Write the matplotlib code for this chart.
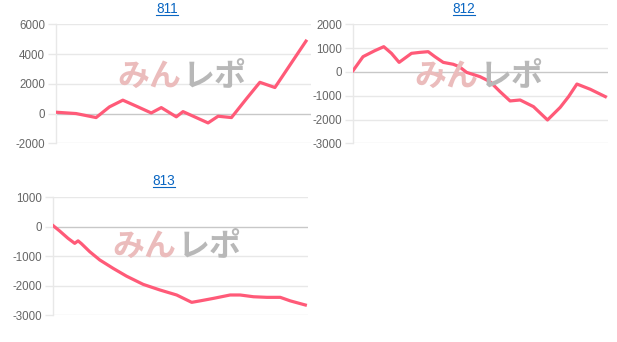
import matplotlib
matplotlib.use('Agg')
import matplotlib.pyplot as plt
from matplotlib.lines import Line2D

W, H = 617, 342

# game counts (x) and balance (y)
x_811 = [0, 600, 1200, 1600, 2000, 2450, 2850, 3150, 3600, 3800, 4550, 4850, 5250, 5700, 6100, 6550, 7480]
y_811 = [90, 0, -270, 450, 900, 450, 40, 400, -220, 130, -630, -180, -270, 1000, 2100, 1750, 4870]

x_812 = [0, 300, 650, 920, 1150, 1380, 1750, 2000, 2250, 2450, 2700, 3000, 3180, 3400, 3800, 4100,
         4400, 4700, 5000, 5400, 5820, 6200, 6450, 6700, 7100, 7550]
y_812 = [50, 640, 890, 1060, 780, 400, 780, 820, 850, 640, 400, 320, 220, -20, -200, -410,
         -830, -1220, -1180, -1460, -2020, -1490, -1040, -510, -730, -1040]

x_813 = [0, 200, 450, 650, 750, 850, 1100, 1400, 1800, 2200, 2700, 3200, 3700, 4150, 4400, 4800,
         5300, 5600, 6000, 6400, 6800, 7100, 7550]
y_813 = [40, -145, -395, -565, -480, -575, -850, -1130, -1415, -1680, -1960, -2150, -2320, -2570,
         -2520, -2435, -2320, -2320, -2380, -2400, -2400, -2520, -2660]

titles = ['811', '812', '813']
yticks = [[-2000, 0, 2000, 4000, 6000],
          [-3000, -2000, -1000, 0, 1000, 2000],
          [-3000, -2000, -1000, 0, 1000]]

# axes boxes in pixels: left, right, top, bottom
boxes = [(56, 311, 24.3, 143.3), (353, 608, 24.3, 143.3), (53, 308, 197.3, 315)]
title_pos = [(167, 9), (464, 9), (164, 181)]
mark_pos = [(182, 77), (479, 77), (177, 247)]

LINE = '#ff5a78'
GRID = '#e8e8e8'
ZERO = '#c8c8c8'

fig = plt.figure(figsize=(W / 100, H / 100), dpi=100)
fig.patch.set_facecolor('white')

series = [(x_811, y_811), (x_812, y_812), (x_813, y_813)]
for i, (xs, ys) in enumerate(series):
    l, r, t, b = boxes[i]
    ax = fig.add_axes([l / W, 1 - b / H, (r - l) / W, (b - t) / H])
    ticks = yticks[i]
    ax.set_ylim(ticks[0], ticks[-1])
    ax.set_xlim(0, 7630)
    for v in ticks:
        ax.axhline(v, color=ZERO if v == 0 else GRID, lw=1.0, zorder=1)
    ax.plot(xs, ys, color=LINE, lw=2.3, solid_joinstyle='round', zorder=3)
    for s in ['top', 'right', 'bottom']:
        ax.spines[s].set_visible(False)
    ax.spines['left'].set_color(GRID)
    ax.spines['left'].set_linewidth(1.0)
    ax.set_xticks([])
    ax.set_yticks(ticks)
    ax.set_yticklabels([str(v) for v in ticks])
    ax.tick_params(axis='y', length=6, width=1.0, color=GRID, pad=2,
                   labelsize=8.3, labelcolor='#666666')
    for lab in ax.get_yticklabels():
        lab.set_fontfamily('Liberation Sans')
    ax.patch.set_alpha(0)

    # watermark logo
    mx, my = mark_pos[i]
    fig.text((mx - 1) / W, 1 - my / H, 'みん', ha='right', va='center', fontsize=23,
             fontweight='bold', color='#ebbcbc', family=['Noto Sans CJK JP'], zorder=0)
    fig.text((mx + 1) / W, 1 - my / H, 'レポ', ha='left', va='center', fontsize=23,
             fontweight='bold', color='#b8b8b8', family=['Noto Sans CJK JP'], zorder=0)

    tx, ty = title_pos[i]
    fig.text(tx / W, 1 - ty / H, titles[i], ha='center', va='center', fontsize=9.8,
             color='#0a66c2', family='Liberation Sans')

# underline the titles like links
fig.canvas.draw()
renderer = fig.canvas.get_renderer()
for txt in fig.texts:
    if txt.get_text() in titles:
        bb = txt.get_window_extent(renderer)
        y0 = (bb.y0 + 1) / H
        fig.add_artist(Line2D([bb.x0 / W, bb.x1 / W], [y0, y0], color='#0a66c2', lw=0.8))

fig.savefig('out.png', dpi=100, facecolor='white')
